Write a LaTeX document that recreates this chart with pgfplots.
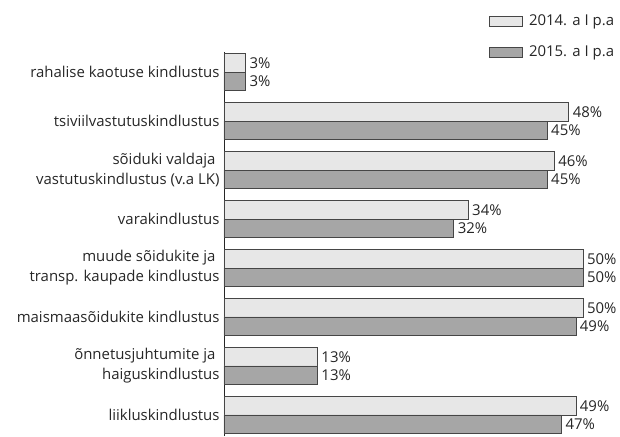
\documentclass[border=0pt]{standalone}
\usepackage{fontspec}
\setmainfont{Open Sans}
\usepackage{pgfplots}
\pgfplotsset{compat=1.18}
\definecolor{barA}{RGB}{231,231,231}
\definecolor{barB}{RGB}{166,166,166}
\definecolor{edge}{RGB}{70,70,70}
\newcommand{\lbl}{\fontsize{15}{20}\selectfont}

\begin{document}
\begin{tikzpicture}
\begin{axis}[
  xbar=0pt, bar width=18.5bp,
  scale only axis, width=359bp, height=384bp,
  xmin=0, xmax=50, ymin=-0.41, ymax=7.43,
  y dir=reverse,
  axis x line=none, axis y line=left,
  axis line style={-, black!85, line width=0.6pt},
  ytick={0,...,7},
  yticklabels={
    rahalise kaotuse kindlustus,
    tsiviilvastutuskindlustus,
    {sõiduki valdaja\hspace*{4bp}\\vastutuskindlustus (v.a LK)},
    varakindlustus,
    {muude sõidukite ja\hspace*{4bp}\\transp. kaupade kindlustus},
    maismaasõidukite kindlustus,
    {õnnetusjuhtumite ja\hspace*{4bp}\\haiguskindlustus},
    liikluskindlustus},
  yticklabel style={align=right, font=\lbl, text=black!85, xshift=-1bp},
  major tick length=0pt,
  xtick=\empty,
  point meta=x,
  nodes near coords={\pgfmathprintnumber{\pgfplotspointmeta}\%},
  nodes near coords style={font=\lbl, text=black!85, anchor=west, xshift=0.5bp},
  /pgf/number format/assume math mode=true,
  clip=false,
  legend style={at={(1.101,1.108)}, anchor=north east, draw=none, fill=none,
    font=\lbl, text=black!85, row sep=15bp},
  legend cell align=left,
  legend image code/.code={\draw[#1] (0bp,-5bp) rectangle (33bp,5bp); \path (37bp,0bp);},
]
\addplot[fill=barA, draw=edge, line width=0.6pt, bar shift=9.25bp] coordinates {
  (3,0) (48,1) (46,2) (34,3) (50,4) (50,5) (13,6) (49,7)};
\addplot[fill=barB, draw=edge, line width=0.6pt, bar shift=-9.25bp] coordinates {
  (3,0) (45,1) (45,2) (32,3) (50,4) (49,5) (13,6) (47,7)};
\legend{2014. a I p.a, 2015. a I p.a}
\end{axis}
\path (current axis.south west) ++(-224bp,0) rectangle ++(620bp,436bp);
\end{tikzpicture}
\end{document}
